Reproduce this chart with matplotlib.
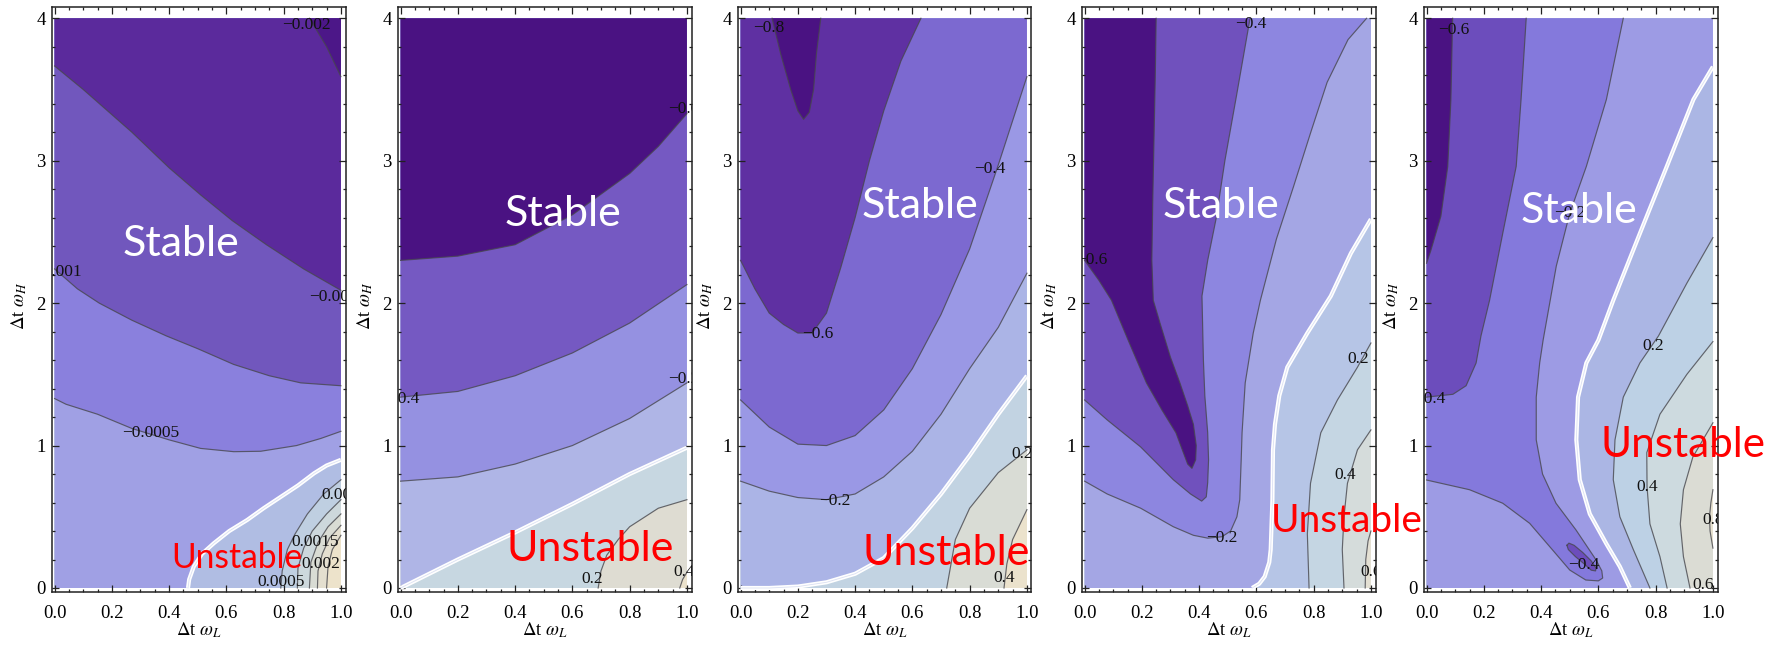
import math
import matplotlib
matplotlib.use("Agg")
import matplotlib.pyplot as plt
from matplotlib.ticker import MultipleLocator

plt.rcParams["font.family"] = ["Liberation Serif", "DejaVu Serif"]
plt.rcParams["mathtext.fontset"] = "stix"

# ---------------------------------------------------------------- data
X_LABEL = r"$\Delta$t $\omega_L$"
Y_LABEL = r"$\Delta$t $\omega_H$"
X_TICKS = [0.0, 0.2, 0.4, 0.6, 0.8, 1.0]
X_TICK_LABELS = ["0.0", "0.2", "0.4", "0.6", "0.8", "1.0"]
Y_TICKS = [0, 1, 2, 3, 4]
Y_TICK_LABELS = ["0", "1", "2", "3", "4"]
STABLE_TEXT = "Stable"
UNSTABLE_TEXT = "Unstable"

# Each panel: contour levels and, per level, the traced level curves as
# (dt*wL, dt*wH) points.  Curves run with the lower-valued side on their left.

P1_LEVELS = [-0.002, -0.0015, -0.001, -0.0005, 0.0, 0.0005, 0.001, 0.0015, 0.002, 0.0025]
P1_CURVES = {
    -0.002: [[(0.89, 4.0), (0.95, 3.80), (1.0, 3.59)]],
    -0.0015: [[(0.0, 3.665), (0.1, 3.50), (0.27, 3.20), (0.4, 2.95), (0.51, 2.76),
               (0.62, 2.58), (0.74, 2.41), (0.87, 2.24), (1.0, 2.09)]],
    -0.001: [[(0.0, 2.24), (0.08, 2.10), (0.156, 2.0), (0.27, 1.88), (0.39, 1.77),
              (0.5, 1.68), (0.625, 1.57), (0.75, 1.49), (0.86, 1.44), (1.0, 1.42)]],
    -0.0005: [[(0.0, 1.33), (0.04, 1.29), (0.15, 1.22), (0.27, 1.12), (0.4, 1.04),
               (0.51, 0.98), (0.626, 0.957), (0.72, 0.96), (0.845, 1.0), (0.93, 1.05),
               (1.0, 1.10)]],
    0.0: [[(0.466, 0.0), (0.47, 0.06), (0.486, 0.15), (0.515, 0.24), (0.556, 0.314),
           (0.61, 0.40), (0.673, 0.478), (0.73, 0.56), (0.79, 0.64), (0.85, 0.72),
           (0.906, 0.805), (0.95, 0.86), (1.0, 0.90)]],
    0.0005: [[(0.79, 0.0), (0.795, 0.12), (0.813, 0.27), (0.84, 0.38), (0.883, 0.52),
              (0.94, 0.66), (1.0, 0.76)]],
    0.001: [[(0.848, 0.0), (0.85, 0.14), (0.87, 0.28), (0.9, 0.40), (0.95, 0.52), (1.0, 0.62)]],
    0.0015: [[(0.89, 0.0), (0.895, 0.18), (0.92, 0.32), (0.955, 0.43), (1.0, 0.52)]],
    0.002: [[(0.918, 0.0), (0.92, 0.12), (0.935, 0.24), (0.96, 0.35), (1.0, 0.44)]],
    0.0025: [[(0.95, 0.0), (0.955, 0.15), (0.97, 0.27), (1.0, 0.37)]],
}
P1_LABELS = [(-0.002, 0.88, 3.95), (-0.0015, 0.99, 2.04), (-0.001, 0.01, 2.22),
             (-0.0005, 0.335, 1.086), (0.0005, 1.015, 0.65), (0.0015, 0.91, 0.325),
             (0.002, 0.93, 0.17), (0.0005, 0.79, 0.045)]

P2_LEVELS = [-0.6, -0.4, -0.2, 0.0, 0.2, 0.4]
P2_CURVES = {
    -0.6: [[(0.0, 2.30), (0.2, 2.33), (0.4, 2.41), (0.6, 2.62), (0.8, 2.91), (0.9, 3.10), (1.0, 3.33)]],
    -0.4: [[(0.0, 1.34), (0.2, 1.38), (0.4, 1.49), (0.6, 1.65), (0.8, 1.86), (1.0, 2.13)]],
    -0.2: [[(0.0, 0.75), (0.2, 0.78), (0.4, 0.87), (0.6, 1.0), (0.8, 1.19), (1.0, 1.44)]],
    0.0: [[(0.0, 0.0), (0.2, 0.2), (0.4, 0.39), (0.6, 0.59), (0.8, 0.80), (1.0, 0.985)]],
    0.2: [[(0.69, 0.0), (0.70, 0.12), (0.72, 0.23), (0.76, 0.34), (0.8, 0.43), (0.9, 0.56), (1.0, 0.62)]],
    0.4: [[(0.975, 0.0), (0.985, 0.06), (1.0, 0.11)]],
}
P2_LABELS = [(-0.6, 0.99, 3.36), (-0.4, 0.01, 1.33), (-0.2, 0.99, 1.47),
             (0.2, 0.67, 0.06), (0.4, 0.99, 0.11)]

P3_LEVELS = [-0.8, -0.6, -0.4, -0.2, 0.0, 0.2, 0.4]
P3_CURVES = {
    -0.8: [[(0.11, 4.0), (0.14, 3.75), (0.175, 3.5), (0.2, 3.35), (0.22, 3.29), (0.24, 3.34),
            (0.255, 3.5), (0.265, 3.75), (0.28, 4.0)]],
    -0.6: [[(0.0, 2.30), (0.05, 2.10), (0.1, 1.93), (0.15, 1.85), (0.2, 1.79), (0.25, 1.79),
            (0.3, 1.93), (0.35, 2.25), (0.4, 2.60), (0.45, 3.0), (0.5, 3.35), (0.56, 3.70),
            (0.63, 4.0)]],
    -0.4: [[(0.0, 1.32), (0.1, 1.13), (0.2, 1.01), (0.3, 1.0), (0.4, 1.07), (0.5, 1.25),
            (0.6, 1.54), (0.7, 1.92), (0.8, 2.38), (0.9, 2.97), (1.0, 3.59)]],
    -0.2: [[(0.0, 0.75), (0.1, 0.68), (0.2, 0.635), (0.3, 0.62), (0.4, 0.66), (0.5, 0.78),
            (0.6, 0.96), (0.7, 1.22), (0.8, 1.54), (0.9, 1.83), (1.0, 2.21)]],
    0.0: [[(0.0, 0.0), (0.1, 0.0), (0.2, 0.01), (0.3, 0.04), (0.4, 0.10), (0.5, 0.21),
           (0.6, 0.42), (0.7, 0.66), (0.8, 0.93), (0.9, 1.22), (1.0, 1.49)]],
    0.2: [[(0.72, 0.0), (0.735, 0.17), (0.75, 0.34), (0.8, 0.56), (0.9, 0.81), (1.0, 0.97)]],
    0.4: [[(0.92, 0.0), (0.93, 0.17), (0.95, 0.34), (1.0, 0.55)]],
}
P3_LABELS = [(-0.8, 0.1, 3.93), (-0.6, 0.27, 1.78), (-0.4, 0.87, 2.94),
             (-0.2, 0.33, 0.61), (0.2, 0.985, 0.94), (0.4, 0.92, 0.07)]

P4_LEVELS = [-0.6, -0.4, -0.2, 0.0, 0.2, 0.4, 0.6]
P4_CURVES = {
    -0.6: [[(0.0, 2.30), (0.05, 2.16), (0.094, 2.02), (0.15, 1.75), (0.216, 1.44),
            (0.27, 1.25), (0.319, 1.09), (0.345, 0.95), (0.36, 0.87), (0.375, 0.84),
            (0.388, 0.90), (0.39, 1.0), (0.38, 1.15), (0.36, 1.28), (0.333, 1.44),
            (0.30, 1.62), (0.265, 1.85), (0.24, 2.02), (0.235, 2.3), (0.238, 2.7),
            (0.243, 3.2), (0.247, 3.6), (0.25, 4.0)]],
    -0.4: [[(0.0, 1.32), (0.079, 1.18), (0.196, 0.99), (0.31, 0.76), (0.37, 0.66),
            (0.409, 0.61), (0.425, 0.64), (0.43, 0.74), (0.433, 0.90), (0.43, 1.09),
            (0.42, 1.35), (0.415, 1.6), (0.41, 2.05), (0.43, 2.3), (0.46, 2.6),
            (0.49, 3.0), (0.53, 3.45), (0.578, 4.0)]],
    -0.2: [[(0.0, 0.75), (0.079, 0.66), (0.196, 0.56), (0.31, 0.43), (0.38, 0.37),
            (0.43, 0.35), (0.48, 0.36), (0.51, 0.40), (0.532, 0.50), (0.542, 0.62),
            (0.544, 0.735), (0.547, 0.90), (0.55, 1.09), (0.561, 1.44), (0.589, 1.79),
            (0.614, 2.02), (0.67, 2.45), (0.73, 2.82), (0.79, 3.2), (0.847, 3.55),
            (0.92, 3.85), (0.985, 4.0)]],
    0.0: [[(0.585, 0.0), (0.61, 0.03), (0.629, 0.08), (0.645, 0.18), (0.65, 0.27),
           (0.653, 0.45), (0.656, 0.62), (0.658, 0.97), (0.665, 1.15), (0.68, 1.35),
           (0.708, 1.55), (0.778, 1.79), (0.86, 2.05), (0.93, 2.35), (1.0, 2.59)]],
    0.2: [[(0.784, 0.0), (0.778, 0.38), (0.789, 0.735), (0.825, 1.09), (0.883, 1.32),
           (0.953, 1.55), (1.0, 1.72)]],
    0.4: [[(0.906, 0.0), (0.9, 0.27), (0.906, 0.5), (0.918, 0.735), (0.953, 0.97), (1.0, 1.11)]],
    0.6: [[(0.98, 0.0), (0.982, 0.2), (0.99, 0.33), (1.0, 0.40)]],
}
P4_LABELS = [(-0.4, 0.58, 3.96), (-0.6, 0.025, 2.3), (-0.2, 0.48, 0.35),
             (0.2, 0.955, 1.61), (0.4, 0.91, 0.79), (0.6, 1.0, 0.11)]

P5_LEVELS = [-0.6, -0.4, -0.2, 0.0, 0.2, 0.4, 0.6, 0.8]
P5_CURVES = {
    -0.6: [[(0.0, 2.28), (0.015, 2.37), (0.05, 2.61), (0.074, 2.96), (0.085, 3.43), (0.091, 4.0)]],
    -0.4: [[(0.0, 1.34), (0.092, 1.36), (0.138, 1.42), (0.173, 1.58), (0.19, 1.77),
            (0.22, 2.02), (0.266, 2.49), (0.313, 2.96), (0.33, 3.43), (0.348, 4.0)],
           [(0.49, 0.30), (0.495, 0.27), (0.52, 0.22), (0.55, 0.17), (0.575, 0.125),
            (0.59, 0.12), (0.592, 0.14), (0.575, 0.19), (0.545, 0.25), (0.515, 0.30),
            (0.497, 0.315)]],
    -0.2: [[(0.0, 0.758), (0.15, 0.69), (0.266, 0.595), (0.36, 0.454), (0.44, 0.267),
            (0.5, 0.126), (0.556, 0.056), (0.6, 0.05), (0.615, 0.07), (0.612, 0.12),
            (0.592, 0.197), (0.522, 0.407), (0.452, 0.595), (0.405, 0.80), (0.383, 1.04),
            (0.383, 1.34), (0.395, 1.58), (0.407, 1.74), (0.453, 2.26), (0.5, 2.63),
            (0.558, 2.96), (0.628, 3.43), (0.687, 4.0)]],
    0.0: [[(0.71, 0.0), (0.675, 0.15), (0.628, 0.31), (0.57, 0.52), (0.535, 0.76),
           (0.523, 1.04), (0.529, 1.34), (0.558, 1.58), (0.6, 1.74), (0.652, 2.02),
           (0.745, 2.49), (0.839, 2.96), (0.932, 3.43), (1.0, 3.66)]],
    0.2: [[(0.78, 0.0), (0.722, 0.27), (0.675, 0.50), (0.652, 0.76), (0.658, 1.04),
           (0.687, 1.34), (0.745, 1.58), (0.81, 1.77), (0.909, 2.14), (1.0, 2.46)]],
    0.4: [[(0.84, 0.0), (0.815, 0.22), (0.78, 0.45), (0.77, 0.71), (0.769, 0.95),
           (0.815, 1.22), (0.909, 1.50), (1.0, 1.73)]],
    0.6: [[(0.92, 0.0), (0.897, 0.22), (0.886, 0.45), (0.897, 0.69), (0.93, 0.92), (1.0, 1.16)]],
    0.8: [[(1.0, 0.28), (0.99, 0.40), (0.988, 0.50), (0.993, 0.60), (1.0, 0.69)]],
}
P5_LABELS = [(-0.6, 0.095, 3.92), (-0.4, 0.01, 1.33), (-0.2, 0.5, 2.63),
             (-0.4, 0.55, 0.16), (0.2, 0.79, 1.70), (0.4, 0.77, 0.71),
             (0.8, 1.0, 0.48), (0.6, 0.965, 0.02)]

# ---------------------------------------------------------------- styles
P1_COLORS = ["#4c1788", "#5b2a9c", "#7157bd", "#8a80dd", "#a0a0e4", "#b0bde3",
             "#bfcfe1", "#cdd8dc", "#d9dcd4", "#e4dfcf", "#ede3cb"]
P2_COLORS = ["#4a1282", "#7559c2", "#9591e1", "#afb5e6", "#c7d7e1", "#dedcd2", "#ebe2cc"]
P3_COLORS = ["#4a1282", "#5f30a2", "#7c69d0", "#9a98e5", "#abb4e6", "#c2d3e2",
             "#d9dcd5", "#ebe2cc"]
P4_COLORS = ["#4a1282", "#7051bd", "#8d86e0", "#a4a6e4", "#b6c5e6", "#c5d6e3",
             "#d5dcdb", "#e4e0d3"]
P5_COLORS = ["#4a1282", "#6c4dbc", "#8479dc", "#9d9be4", "#abb6e4", "#bdd1e5",
             "#cddadf", "#dbdcd4", "#e7e1cf"]

FIG_W, FIG_H = 1784, 650
AX_LEFTS = [52, 398, 738, 1082, 1424]
AX_WIDTH = 293.5
AX_TOP, AX_BOTTOM = 7.3, 591.7
XLIM = (-0.009, 1.016)
YLIM = (-0.026, 4.077)
X0, X1, Y0, Y1 = 0.0, 1.0, 0.0, 4.0

STABLE_FONT = 31
STABLE_POS = [(0.44, 2.33), (0.567, 2.54), (0.625, 2.60), (0.476, 2.60), (0.532, 2.56)]
UNSTABLE_POS = [(0.638, 0.142), (0.662, 0.19), (0.718, 0.16), (0.916, 0.39), (0.896, 0.918)]
UNSTABLE_SCALE = [0.78, 1.0, 1.0, 0.9, 0.98]

TICK_FONT = 13.5
LABEL_FONT = 13.5
CONTOUR_FONT = 12.5
LINE_COLOR = (0.28, 0.28, 0.30, 0.8)
CORNERS = [(X0, Y0), (X1, Y0), (X1, Y1), (X0, Y1)]


def on_frame(p):
    x, y = p
    e = 1e-9
    return abs(x - X0) < e or abs(x - X1) < e or abs(y - Y0) < e or abs(y - Y1) < e


def perimeter_pos(p):
    """Counter-clockwise position along the plot boundary, 0..4."""
    x, y = p
    e = 1e-9
    if abs(y - Y0) < e and x < X1 - e:
        return (x - X0) / (X1 - X0)
    if abs(x - X1) < e and y < Y1 - e:
        return 1 + (y - Y0) / (Y1 - Y0)
    if abs(y - Y1) < e and x > X0 + e:
        return 2 + (X1 - x) / (X1 - X0)
    return 3 + (Y1 - y) / (Y1 - Y0)


def low_side_polygon(curve):
    """Region below the curve's level: closed along the frame, counter-clockwise."""
    if not (on_frame(curve[0]) and on_frame(curve[-1])):
        return list(curve)
    s_start = perimeter_pos(curve[0])
    s_end = perimeter_pos(curve[-1])
    if s_start <= s_end:
        s_start += 4
    pts = list(curve)
    k = math.floor(s_end) + 1
    while k < s_start - 1e-12:
        pts.append(CORNERS[k % 4])
        k += 1
    return pts


def level_text(v):
    return f"{v:g}".replace("-", "\u2212")


def draw_panel(ax, levels, curves, colors, labels):
    ax.fill([X0, X1, X1, X0], [Y0, Y0, Y1, Y1], color=colors[-1], lw=0, zorder=1)
    for k in range(len(levels) - 1, -1, -1):
        for curve in curves[levels[k]]:
            poly = low_side_polygon(curve)
            ax.fill([p[0] for p in poly], [p[1] for p in poly], color=colors[k],
                    lw=0, zorder=1)
    for lev in levels:
        for curve in curves[lev]:
            pts = list(curve)
            if not on_frame(pts[0]):
                pts = pts + [pts[0]]
            xs = [p[0] for p in pts]
            ys = [p[1] for p in pts]
            if lev == 0:
                ax.plot(xs, ys, color="white", lw=3.0, solid_capstyle="butt",
                        solid_joinstyle="round", zorder=3)
                ax.plot(xs, ys, color=(0.86, 0.88, 0.95), lw=0.6, zorder=3)
            else:
                ax.plot(xs, ys, color=LINE_COLOR, lw=0.85,
                        solid_joinstyle="round", zorder=2)
    for lev, x, y in labels:
        ax.text(x, y, level_text(lev), ha="center", va="center", fontsize=CONTOUR_FONT,
                color="#111111", zorder=4, clip_on=True)


fig = plt.figure(figsize=(FIG_W / 100, FIG_H / 100), dpi=100)
panels = [
    (P1_LEVELS, P1_CURVES, P1_COLORS, P1_LABELS),
    (P2_LEVELS, P2_CURVES, P2_COLORS, P2_LABELS),
    (P3_LEVELS, P3_CURVES, P3_COLORS, P3_LABELS),
    (P4_LEVELS, P4_CURVES, P4_COLORS, P4_LABELS),
    (P5_LEVELS, P5_CURVES, P5_COLORS, P5_LABELS),
]

axes = []
for i, (levels, curves, colors, labels) in enumerate(panels):
    rect = [AX_LEFTS[i] / FIG_W, (FIG_H - AX_BOTTOM) / FIG_H,
            AX_WIDTH / FIG_W, (AX_BOTTOM - AX_TOP) / FIG_H]
    ax = fig.add_axes(rect)
    ax.set_facecolor("white")
    draw_panel(ax, levels, curves, colors, labels)
    ax.set_xlim(*XLIM)
    ax.set_ylim(*YLIM)
    ax.set_xticks(X_TICKS)
    ax.set_xticklabels(X_TICK_LABELS)
    ax.set_yticks(Y_TICKS)
    ax.set_yticklabels(Y_TICK_LABELS)
    ax.xaxis.set_minor_locator(MultipleLocator(0.05))
    ax.yaxis.set_minor_locator(MultipleLocator(0.2))
    ax.tick_params(which="both", direction="in", top=True, right=True,
                   labeltop=False, labelright=False, width=0.9, color="#222222")
    ax.tick_params(which="major", length=4.8)
    ax.tick_params(which="minor", length=2.5)
    ax.tick_params(axis="x", which="major", pad=9.5, labelsize=TICK_FONT)
    ax.tick_params(axis="y", which="major", pad=4.5, labelsize=TICK_FONT)
    for sp in ax.spines.values():
        sp.set_linewidth(1.1)
        sp.set_color("#222222")
    ax.set_xlabel(X_LABEL, fontsize=LABEL_FONT)
    ax.set_ylabel(Y_LABEL, fontsize=LABEL_FONT)
    ax.xaxis.set_label_coords(0.5, -0.0655)
    ax.xaxis.label.set_verticalalignment("center")
    ax.yaxis.set_label_coords(-0.111, 0.49)
    ax.yaxis.label.set_verticalalignment("center")
    ax.yaxis.label.set_horizontalalignment("center")
    axes.append(ax)

for i, ax in enumerate(axes):
    sx, sy = STABLE_POS[i]
    fig.text(sx, sy, STABLE_TEXT, transform=ax.transData, ha="center", va="baseline",
             fontsize=STABLE_FONT, family=["Lato", "DejaVu Sans"], color="white", zorder=10)
    ux, uy = UNSTABLE_POS[i]
    fig.text(ux, uy, UNSTABLE_TEXT, transform=ax.transData, ha="center", va="baseline",
             fontsize=STABLE_FONT * UNSTABLE_SCALE[i], family=["Lato", "DejaVu Sans"],
             color="#ff0000", zorder=10)

fig.savefig("out.png", dpi=100, facecolor="white")
